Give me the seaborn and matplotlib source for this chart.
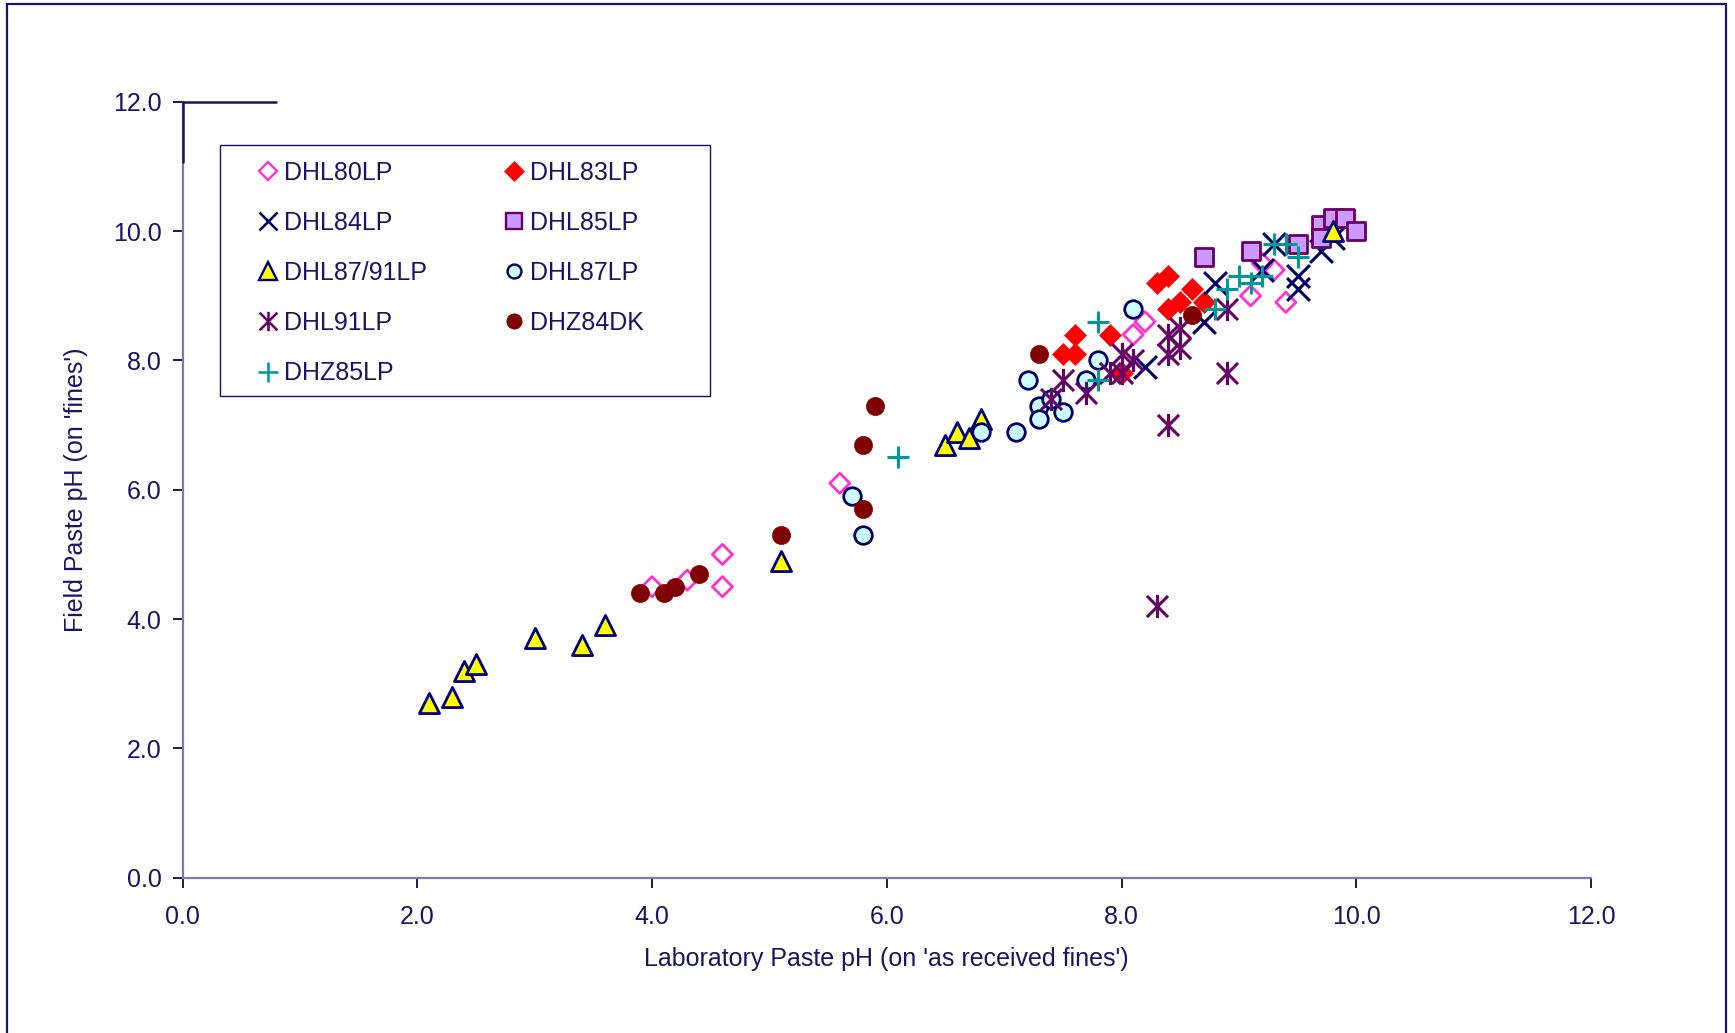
import matplotlib
matplotlib.use("Agg")
import matplotlib.pyplot as plt
from matplotlib.lines import Line2D
from matplotlib.patches import Rectangle
from matplotlib.path import Path
import seaborn as sns
import pandas as pd

sns.set_theme(style="white")
plt.rcParams["font.family"] = ["Liberation Sans", "DejaVu Sans"]

# Laboratory paste pH (x) vs field paste pH (y), per sample series
dhl80lp_x = [4.0, 4.3, 4.6, 4.6, 5.6, 8.1, 8.2, 9.1, 9.2, 9.3, 9.4]
dhl80lp_y = [4.5, 4.6, 5.0, 4.5, 6.1, 8.4, 8.6, 9.0, 9.5, 9.4, 8.9]

dhl83lp_x = [7.5, 7.6, 7.6, 7.9, 8.0, 8.3, 8.4, 8.4, 8.5, 8.6, 8.7]
dhl83lp_y = [8.1, 8.1, 8.4, 8.4, 7.8, 9.2, 9.3, 8.8, 8.9, 9.1, 8.9]

dhl84lp_x = [8.2, 8.7, 8.8, 9.2, 9.3, 9.5, 9.5, 9.7, 9.8]
dhl84lp_y = [7.9, 8.6, 9.2, 9.4, 9.8, 9.3, 9.1, 9.7, 9.9]

dhl85lp_x = [8.7, 9.1, 9.5, 9.7, 9.7, 9.8, 9.9, 10.0]
dhl85lp_y = [9.6, 9.7, 9.8, 10.1, 9.9, 10.2, 10.2, 10.0]

dhl8791lp_x = [2.1, 2.3, 2.4, 2.5, 3.0, 3.4, 3.6, 5.1, 6.5, 6.6, 6.7, 6.8, 9.8]
dhl8791lp_y = [2.7, 2.8, 3.2, 3.3, 3.7, 3.6, 3.9, 4.9, 6.7, 6.9, 6.8, 7.1, 10.0]

dhl87lp_x = [5.7, 5.8, 6.8, 7.1, 7.2, 7.3, 7.3, 7.4, 7.5, 7.7, 7.8, 8.1]
dhl87lp_y = [5.9, 5.3, 6.9, 6.9, 7.7, 7.3, 7.1, 7.4, 7.2, 7.7, 8.0, 8.8]

dhl91lp_x = [7.4, 7.5, 7.7, 7.9, 8.0, 8.0, 8.1, 8.3, 8.4, 8.4, 8.4, 8.5, 8.5, 8.9, 8.9]
dhl91lp_y = [7.4, 7.7, 7.5, 7.8, 7.8, 8.1, 8.0, 4.2, 7.0, 8.1, 8.4, 8.2, 8.5, 7.8, 8.8]

dhz84dk_x = [3.9, 4.1, 4.2, 4.4, 5.1, 5.8, 5.8, 5.9, 7.3, 8.6]
dhz84dk_y = [4.4, 4.4, 4.5, 4.7, 5.3, 5.7, 6.7, 7.3, 8.1, 8.7]

dhz85lp_x = [6.1, 7.8, 7.8, 8.8, 8.9, 9.0, 9.1, 9.2, 9.3, 9.4, 9.5]
dhz85lp_y = [6.5, 7.7, 8.6, 8.8, 9.1, 9.3, 9.2, 9.3, 9.8, 9.8, 9.6]

x_ticks = [0.0, 2.0, 4.0, 6.0, 8.0, 10.0, 12.0]
y_ticks = [0.0, 2.0, 4.0, 6.0, 8.0, 10.0, 12.0]

NAVY = "#1b1464"
AXIS = "#8078b0"
FS = 18

# asterisk: an X crossed by a vertical stroke
ASTER = Path(
    [(-1, -1), (1, 1), (-1, 1), (1, -1), (0, -1.1), (0, 1.1)],
    [Path.MOVETO, Path.LINETO, Path.MOVETO, Path.LINETO, Path.MOVETO, Path.LINETO],
)

# name, x, y, marker, face, edge, size, linewidth, legend marker size, line-only
series = [
    ("DHL80LP", dhl80lp_x, dhl80lp_y, "D", "none", "#ff33cc", 105, 2.0, 9, False),
    ("DHL83LP", dhl83lp_x, dhl83lp_y, "D", "#ff0000", "#ff0000", 125, 0.5, 10, False),
    ("DHL84LP", dhl84lp_x, dhl84lp_y, "x", "#000066", "#000066", 270, 2.2, 13, True),
    ("DHL85LP", dhl85lp_x, dhl85lp_y, "s", "#cc99ff", "#660066", 170, 2.0, 11, False),
    ("DHL87/91LP", dhl8791lp_x, dhl8791lp_y, "^", "#ffff00", "#000080", 210, 2.0, 13, False),
    ("DHL87LP", dhl87lp_x, dhl87lp_y, "o", "#ccffff", "#000066", 160, 2.0, 10, False),
    ("DHL91LP", dhl91lp_x, dhl91lp_y, ASTER, "#660066", "#660066", 280, 2.2, 14, True),
    ("DHZ84DK", dhz84dk_x, dhz84dk_y, "o", "#800000", "#800000", 170, 0.5, 11, False),
    ("DHZ85LP", dhz85lp_x, dhz85lp_y, "+", "#009999", "#009999", 270, 2.2, 14, True),
]

fig = plt.figure(figsize=(17.35, 10.33), dpi=100)
ax = fig.add_axes([0.1052, 0.1505, 0.8118, 0.7508])

handles = {}
for name, xs, ys, mk, face, edge, size, lw, lsz, lines_only in series:
    df = pd.DataFrame({"lab": xs, "field": ys})
    if lines_only:
        sns.scatterplot(data=df, x="lab", y="field", ax=ax, marker=mk, s=size,
                        color=edge, edgecolor=edge, linewidth=lw, legend=False, zorder=3)
        handles[name] = Line2D([], [], linestyle="none", marker=mk, markersize=lsz,
                               color=edge, markerfacecolor=edge, markeredgecolor=edge,
                               markeredgewidth=lw * 0.85)
    else:
        sns.scatterplot(data=df, x="lab", y="field", ax=ax, marker=mk, s=size,
                        facecolor=face, edgecolor=edge, linewidth=lw,
                        legend=False, zorder=3)
        handles[name] = Line2D([], [], linestyle="none", marker=mk, markersize=lsz,
                               markerfacecolor=face, markeredgecolor=edge,
                               markeredgewidth=max(lw * 0.85, 0.5))

ax.set_xlim(0, 12)
ax.set_ylim(0, 12)
ax.set_xticks(x_ticks)
ax.set_yticks(y_ticks)
ax.set_xticklabels([f"{v:.1f}" for v in x_ticks])
ax.set_yticklabels([f"{v:.1f}" for v in y_ticks])

for side in ("top", "right"):
    ax.spines[side].set_visible(False)
for side in ("left", "bottom"):
    ax.spines[side].set_color(AXIS)
    ax.spines[side].set_linewidth(1.6)

# darker corner marks at the top of the value axis
ax.axhline(12, xmin=0, xmax=0.8 / 12, color=NAVY, lw=1.8, clip_on=False, zorder=4)
ax.axvline(0, ymin=11.07 / 12, ymax=1, color=NAVY, lw=1.8, clip_on=False, zorder=4)

ax.tick_params(axis="both", which="major", direction="out", length=7, width=1.4,
               color=NAVY, labelcolor=NAVY, labelsize=FS, left=True, bottom=True)
ax.tick_params(axis="x", pad=13)
ax.tick_params(axis="y", pad=8)

ax.set_xlabel("Laboratory Paste pH (on 'as received fines')", fontsize=FS,
              color=NAVY, labelpad=12.5)
ax.set_ylabel("Field Paste pH (on 'fines')", fontsize=FS, color=NAVY, labelpad=18)
ax.grid(False)

# legend box, drawn as its own frame
fig.patches.append(Rectangle((0.1269, 0.6166), 0.2825, 0.2431, transform=fig.transFigure,
                             facecolor="white", edgecolor=NAVY, linewidth=1.0, zorder=5))

order = ["DHL80LP", "DHL84LP", "DHL87/91LP", "DHL91LP", "DHZ85LP",
         "DHL83LP", "DHL85LP", "DHL87LP", "DHZ84DK"]
leg = fig.legend([handles[n] for n in order], order, ncol=2,
                 loc="upper left", bbox_to_anchor=(0.1495, 0.8443),
                 frameon=False, fontsize=FS,
                 handlelength=0.7, handletextpad=0.3, columnspacing=3.1,
                 labelspacing=1.045, borderpad=0, borderaxespad=0)
leg.set_zorder(6)
for t in leg.get_texts():
    t.set_color(NAVY)

# outer border of the chart area
fig.patches.append(Rectangle((0.004, -0.05), 0.991, 1.046, transform=fig.transFigure,
                             fill=False, edgecolor=NAVY, linewidth=1.6))

fig.savefig("out.png", dpi=100, facecolor="white")
